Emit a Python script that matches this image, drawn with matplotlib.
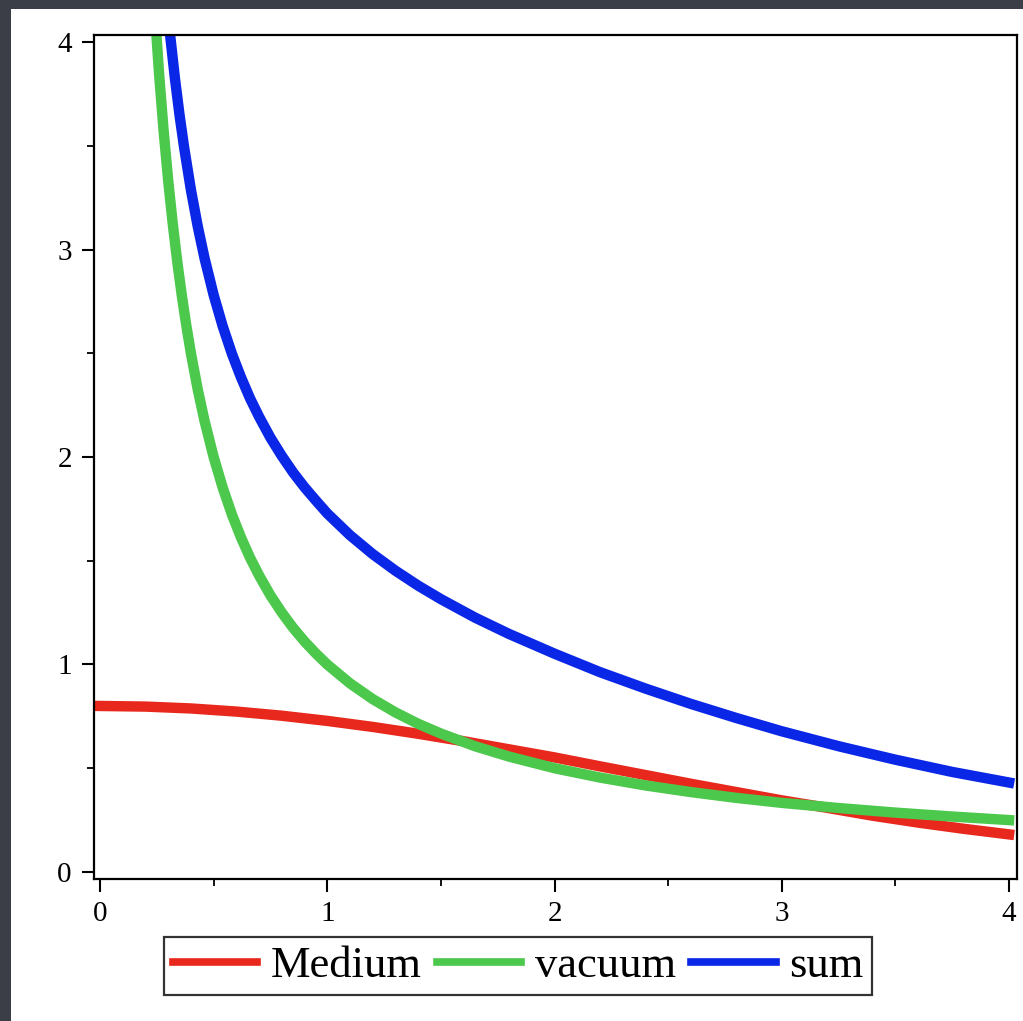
import matplotlib.pyplot as plt
from matplotlib.patches import Rectangle

plt.rcParams['font.family'] = ['Liberation Serif', 'DejaVu Serif']

# values
med_x = [0.0, 0.2, 0.4, 0.6, 0.8, 1.0, 1.2, 1.4, 1.6, 1.8, 2.0, 2.2, 2.4, 2.6, 2.8, 3.0,
         3.2, 3.4, 3.6, 3.8, 4.0]
med_y = [0.800, 0.797, 0.788, 0.773, 0.753, 0.728, 0.699, 0.666, 0.630, 0.591, 0.552, 0.509,
         0.467, 0.425, 0.385, 0.345, 0.309, 0.271, 0.238, 0.208, 0.181]

vac_x = [0.24, 0.26, 0.28, 0.3, 0.32, 0.34, 0.36, 0.38, 0.4, 0.43, 0.46, 0.5, 0.54, 0.58, 0.62,
         0.66, 0.7, 0.75, 0.8, 0.85, 0.9, 0.95, 1.0, 1.1, 1.2, 1.3, 1.4, 1.5, 1.65, 1.8, 2.0,
         2.2, 2.4, 2.6, 2.8, 3.0, 3.25, 3.5, 3.75, 4.0]
vac_y = [4.167, 3.846, 3.571, 3.333, 3.125, 2.941, 2.778, 2.632, 2.500, 2.326, 2.174, 2.000,
         1.852, 1.724, 1.613, 1.515, 1.429, 1.333, 1.250, 1.176, 1.111, 1.053, 1.000, 0.909,
         0.833, 0.769, 0.714, 0.667, 0.606, 0.556, 0.500, 0.455, 0.417, 0.385, 0.357, 0.333,
         0.308, 0.286, 0.267, 0.250]

sum_x = [0.31, 0.33, 0.35, 0.37, 0.4, 0.43, 0.46, 0.5, 0.54, 0.58, 0.62, 0.66, 0.7, 0.75, 0.8,
         0.85, 0.9, 0.95, 1.0, 1.1, 1.2, 1.3, 1.4, 1.5, 1.65, 1.8, 2.0, 2.2, 2.4, 2.6, 2.8, 3.0,
         3.25, 3.5, 3.75, 4.0]
sum_y = [4.019, 3.822, 3.648, 3.493, 3.288, 3.112, 2.958, 2.781, 2.630, 2.499, 2.385, 2.283,
         2.194, 2.093, 2.005, 1.925, 1.854, 1.790, 1.728, 1.623, 1.532, 1.452, 1.380, 1.315,
         1.226, 1.147, 1.052, 0.963, 0.884, 0.810, 0.742, 0.678, 0.606, 0.541, 0.482, 0.431]

labels = ["Medium", "vacuum", "sum"]
colors = ["#e8281c", "#4cc84c", "#0a26e6"]

fig = plt.figure(figsize=(10.23, 10.21), dpi=100, facecolor="#3b3e46")
# white panel behind the plot
fig.patches.append(Rectangle((11 / 1023, 0), 1, 1 - 9 / 1021, transform=fig.transFigure,
                             facecolor="white", edgecolor="none", zorder=-5))

ax = fig.add_axes([94 / 1023, 142 / 1021, 923 / 1023, 844 / 1021])
ax.set_facecolor("white")
ax.set_zorder(2)

lw = 7.5
ax.plot(med_x, med_y, color=colors[0], lw=lw, label=labels[0])
ax.plot(vac_x, vac_y, color=colors[1], lw=lw, label=labels[1])
ax.plot(sum_x, sum_y, color=colors[2], lw=lw, label=labels[2])

ax.set_xlim(-0.0264, 4.035)
ax.set_ylim(-0.034, 4.034)
ax.set_xticks([0, 1, 2, 3, 4])
ax.set_yticks([0, 1, 2, 3, 4])
ax.set_xticks([0.5, 1.5, 2.5, 3.5], minor=True)
ax.set_yticks([0.5, 1.5, 2.5, 3.5], minor=True)

for s in ax.spines.values():
    s.set_linewidth(1.6)
ax.tick_params(which="major", length=9, width=1.5, direction="out", labelsize=21, pad=7)
ax.tick_params(which="minor", length=5, width=1.3, direction="out")

leg = fig.legend(loc="center", bbox_to_anchor=(518 / 1023, 1 - 966 / 1021), ncol=3,
                 prop={"size": 32}, frameon=True, fancybox=False,
                 handlelength=1.9, handletextpad=0.3, columnspacing=0.35, borderpad=0.2,
                 borderaxespad=0)
leg.set_zorder(3)
leg.get_frame().set_edgecolor("black")
leg.get_frame().set_linewidth(1.6)
for line in leg.get_lines():
    line.set_linewidth(5.5)

fig.savefig("out.png", dpi=100, facecolor=fig.get_facecolor())
